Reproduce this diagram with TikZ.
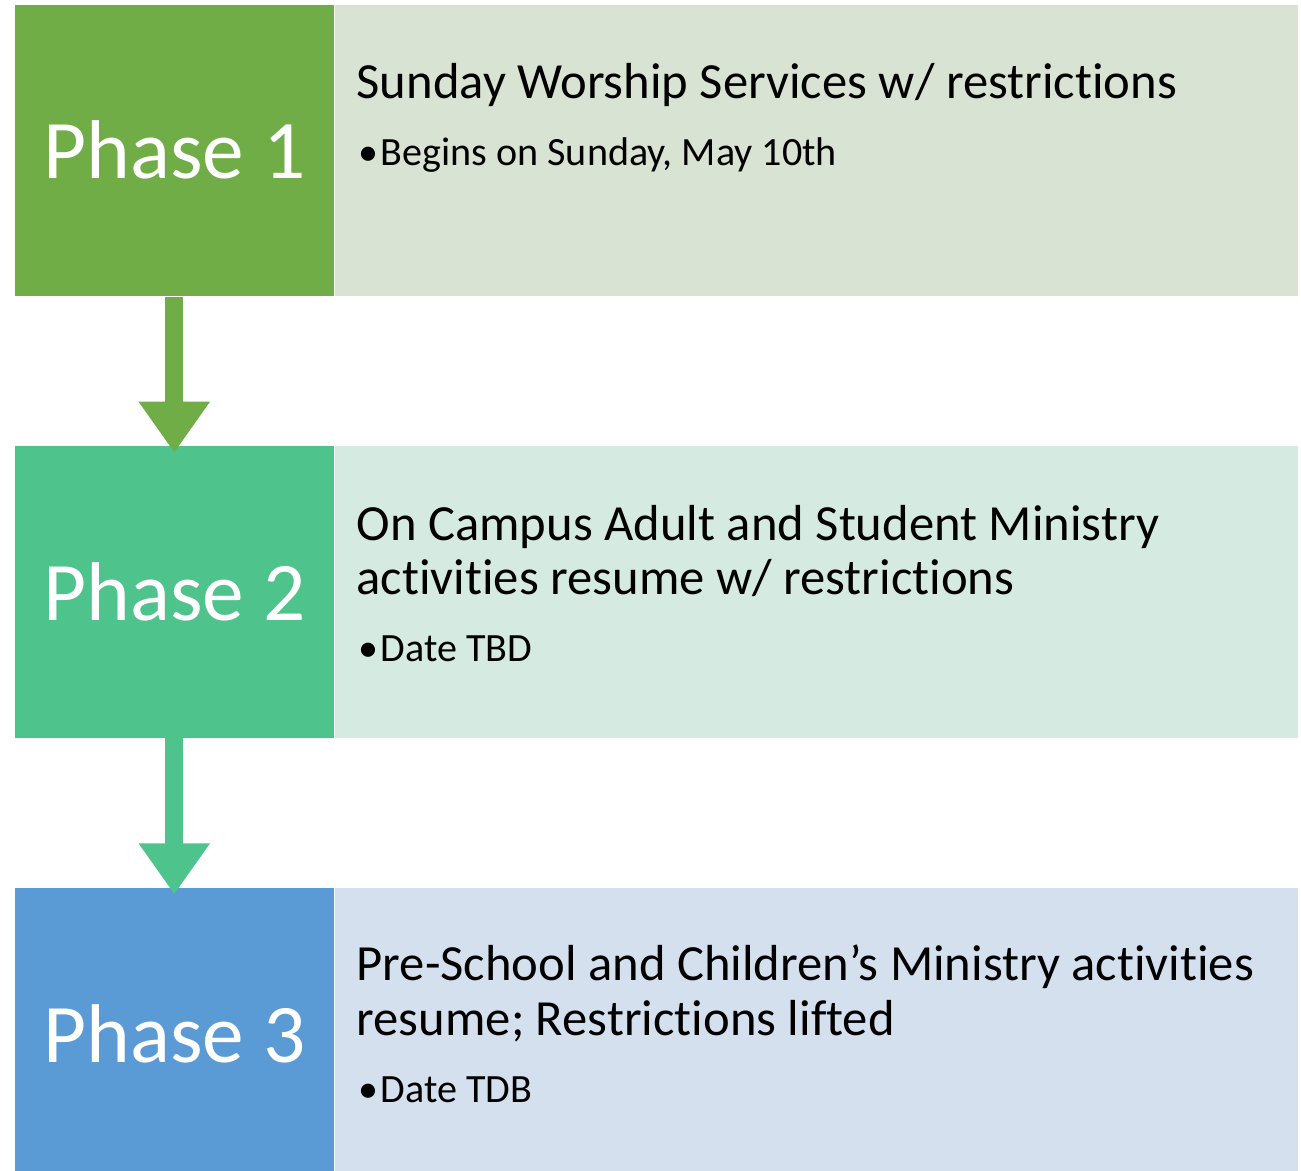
\documentclass[tikz,border=0pt]{standalone}
\usepackage{fontspec}
\setmainfont[Ligatures=NoCommon]{Carlito}
\usetikzlibrary{positioning,arrows.meta}

\definecolor{onedark}{HTML}{70AD47}
\definecolor{onelight}{HTML}{D9E3D3}
\definecolor{twodark}{HTML}{4EC48C}
\definecolor{twolight}{HTML}{D5EAE1}
\definecolor{threedark}{HTML}{5B9BD5}
\definecolor{threelight}{HTML}{D4E0EE}

\begin{document}
\begin{tikzpicture}[x=0.01cm, y=-0.01cm, node distance = 1.49cm,
phase/.style={rectangle, minimum width=3.19cm, minimum height=2.91cm, inner sep=0pt, text=white, font=\fontsize{23.7}{28}\selectfont},
detail/.style={rectangle, minimum width=9.62cm, minimum height=2.91cm, inner sep=0pt},
heading/.style={anchor=base west, inner sep=0pt, align=left, font=\fontsize{14.4}{15.6}\selectfont},
item/.style={anchor=base west, inner sep=0pt, font=\fontsize{11.4}{13}\selectfont},
flow/.style={line width=5.1pt, -{Triangle[width=19.3pt, length=14.5pt]}}]
\useasboundingbox (0,0) rectangle (1301,1171);
\node [phase, fill=onedark, anchor=north west] (p_1) at (14,4) {Phase 1};
\node [phase, fill=twodark] (p_2) [below = of p_1] {Phase 2};
\node [phase, fill=threedark] (p_3) [below = of p_2] {Phase 3};
\node [detail, fill=onelight] (d_1) [right = 0pt of p_1] {};
\node [detail, fill=twolight] (d_2) [right = 0pt of p_2] {};
\node [detail, fill=threelight] (d_3) [right = 0pt of p_3] {};
\draw [flow, draw=onedark] (p_1) -- ([yshift=-0.07cm]p_2.north);
\draw [flow, draw=twodark] (p_2) -- ([yshift=-0.07cm]p_3.north);
% base of a two-line heading is its last line
\node [heading] (h_1) at (356,99) {Sunday Worship Services w/ restrictions};
\node [item] (b_1) at (358,166) {\makebox[0.22cm][l]{•}Begins on Sunday, May 10th};
\node [heading] (h_2) at (356,595) {On Campus Adult and Student Ministry\\activities resume w/ restrictions};
\node [item] (b_2) at (358,662) {\makebox[0.22cm][l]{•}Date TBD};
\node [heading] (h_3) at (356,1035) {Pre-School and Children’s Ministry activities\\resume; Restrictions lifted};
\node [item] (b_3) at (358,1102) {\makebox[0.22cm][l]{•}Date TDB};
\end{tikzpicture}
\end{document}
